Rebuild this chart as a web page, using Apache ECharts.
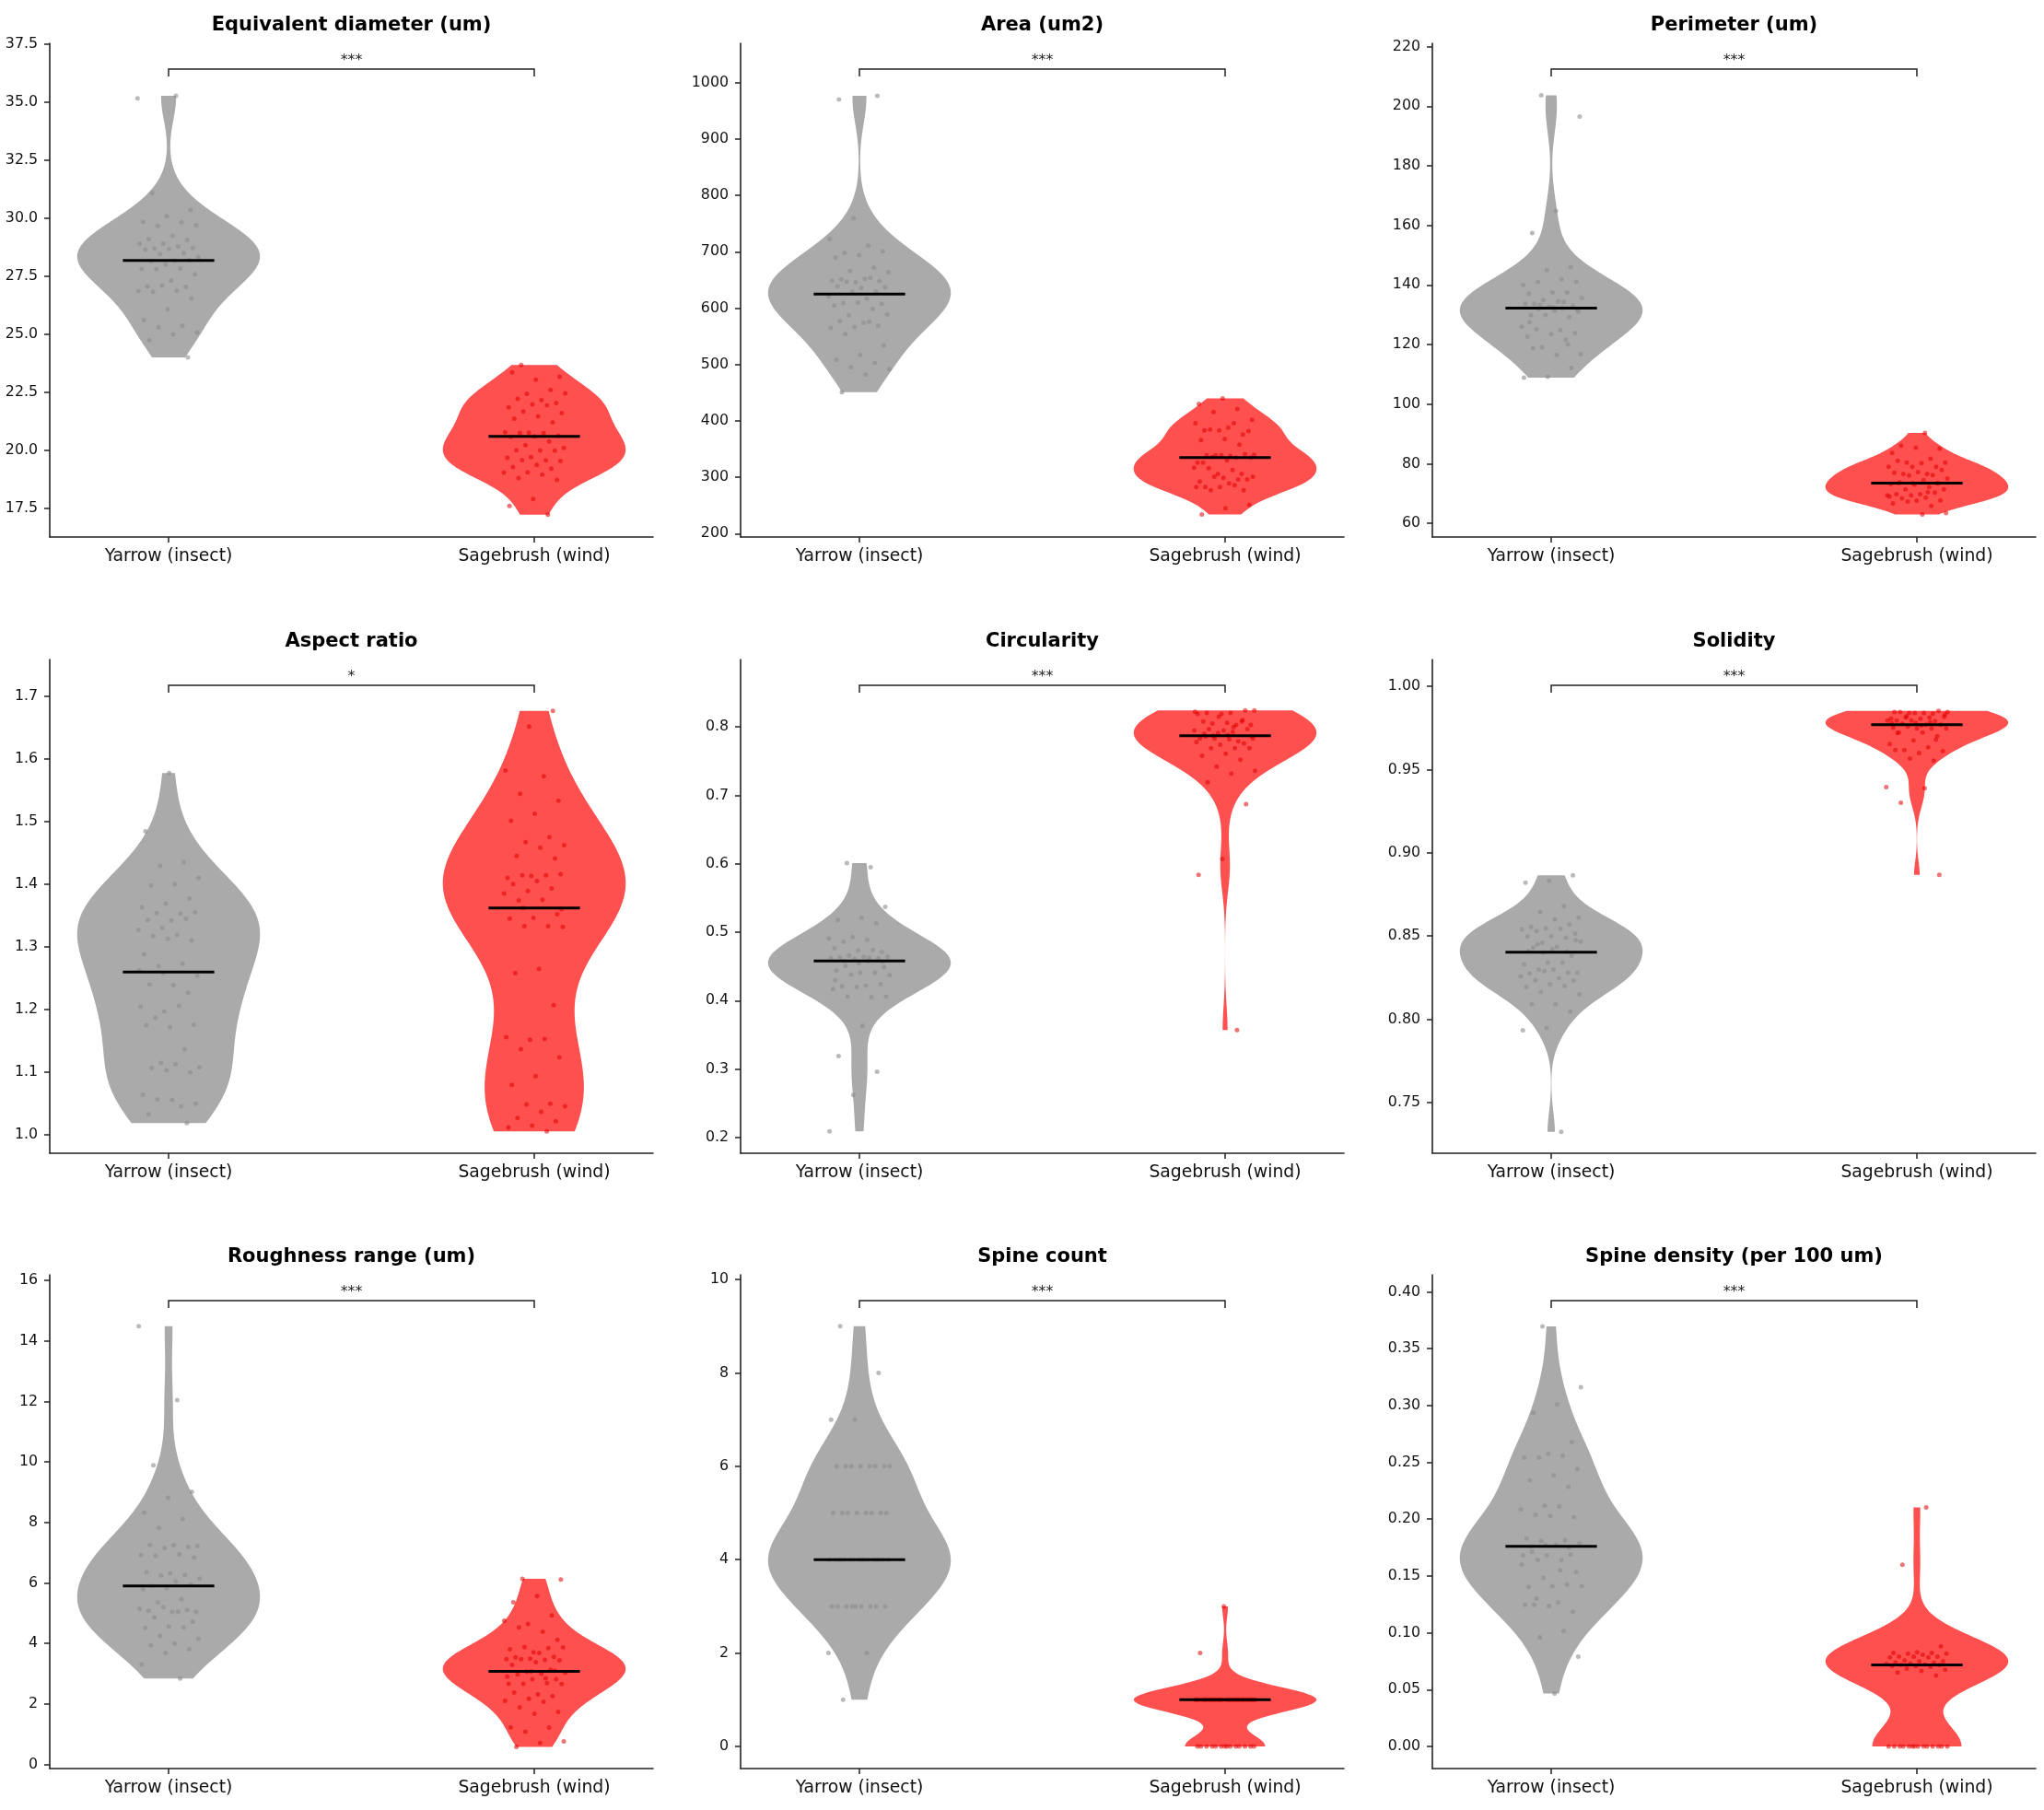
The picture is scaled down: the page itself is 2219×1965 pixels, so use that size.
<!DOCTYPE html>
<html>
<head>
<meta charset="utf-8">
<script src="https://cdn.jsdelivr.net/npm/echarts@6/dist/echarts.min.js"></script>
<style>
html,body{margin:0;padding:0;background:#fff;}
#chart{width:2219px;height:1965px;}
</style>
</head>
<body>
<div id="chart"></div>
<script>
// groups
var categories = ['Yarrow (insect)', 'Sagebrush (wind)'];
var titles = ['Equivalent diameter (um)', 'Area (um2)', 'Perimeter (um)',
              'Aspect ratio', 'Circularity', 'Solidity',
              'Roughness range (um)', 'Spine count', 'Spine density (per 100 um)'];
var sigLabels = ['***', '***', '***', '*', '***', '***', '***', '***', '***'];

// axis limits and ticks
var yMin = [16.26, 194, 55.4, 0.971, 0.177, 0.7195, -0.135, -0.474, -0.0195];
var yMax = [37.54, 1070, 221.1, 1.758, 0.8985, 1.0161, 16.19, 10.1, 0.415];
var yTicks = [
    [17.5, 20, 22.5, 25, 27.5, 30, 32.5, 35, 37.5],
    [200, 300, 400, 500, 600, 700, 800, 900, 1000],
    [60, 80, 100, 120, 140, 160, 180, 200, 220],
    [1.0, 1.1, 1.2, 1.3, 1.4, 1.5, 1.6, 1.7],
    [0.2, 0.3, 0.4, 0.5, 0.6, 0.7, 0.8],
    [0.75, 0.80, 0.85, 0.90, 0.95, 1.00],
    [0, 2, 4, 6, 8, 10, 12, 14, 16],
    [0, 2, 4, 6, 8, 10],
    [0, 0.05, 0.10, 0.15, 0.20, 0.25, 0.30, 0.35, 0.40]
];
var yDecimals = [1, 0, 0, 1, 1, 2, 0, 0, 2];

var eqYarrow = [35.17,35.28,31.1,30.35,30.09,29.84,29.83,29.67,29.7,29.24,29.1,29.06,28.9,28.9,28.79,28.7,28.72,28.68,28.65,28.5,28.46,28.33,28.17,28.15,28.19,28.0,27.81,27.83,27.8,27.58,27.32,27.06,27.04,27.1,26.86,26.88,26.83,26.54,26.08,25.61,25.37,25.30,25.07,24.99,24.75,24.0];
var eqSage = [23.67,23.17,23.04,23.36,22.6,22.43,22.45,22.17,22.22,22.04,21.98,21.85,21.94,21.67,21.6,21.46,21.36,21.2,20.76,20.78,20.74,20.75,20.62,20.6,20.58,20.38,20.22,20.1,19.99,20.0,19.98,19.7,19.67,19.57,19.58,19.54,19.37,19.28,19.21,19.05,19.04,18.95,18.8,18.72,17.9,17.6,17.22];

var areaYarrow = [970.5,977,759.5,723,711,698,701,694,690,672,666,664,652,651,648,646,649,654,647,637.5,636,639,630,629,621,617,609,608,610,605,599,587,589,574,577,569,566.5,565,576,554,534,517,508,503,495,492,482,451];
var areaSage = [440,430,421,416,402,388,383,376,383,396,396,385,382,368,366,358,339,340,338,339,341,339,326,335,336,335,330,326,306,306,317,313,316,296,299,292.5,296,301,301,289,282.5,277,282.5,282.5,286,277,251,245,234];

var perimYarrow = [203.6,196.5,164.8,157.4,146,145,140,141.9,141,141,137.5,137.1,137.5,134.9,135.6,134.5,133.7,133,132.8,133.7,134.3,133.3,131,131.4,129.9,129.2,129.9,126,124.8,125.2,123.9,123.5,122.6,121.6,119.1,116.8,116.5,118.8,112.1,109.2,108.9,132.2,132.0,131.8,132.5,127.5,120];
var perimSage = [90.3,86.1,85.1,85.4,83.6,81.7,80.4,80.4,80.2,81.0,79.0,79,79,76.6,76.6,77.9,77.2,77,76.2,76,75.0,74.5,73.7,73.4,73,73.2,72.2,71.4,71.4,69.8,69.8,70.3,69.4,69.4,68.6,68.4,67.7,67.6,66.7,65.8,67.3,63.4,63.0,73.5,73.5,73.5,69.0,70.5];

var aspectYarrow = [1.577,1.484,1.435,1.429,1.41,1.40,1.398,1.377,1.369,1.363,1.353,1.354,1.355,1.342,1.343,1.345,1.330,1.327,1.319,1.317,1.310,1.313,1.288,1.273,1.269,1.254,1.239,1.240,1.227,1.197,1.205,1.206,1.187,1.176,1.172,1.175,1.137,1.115,1.108,1.113,1.107,1.100,1.103,1.064,1.046,1.057,1.050,1.056,1.033,1.019,1.258,1.262];
var aspectSage = [1.676,1.651,1.581,1.572,1.544,1.533,1.512,1.501,1.475,1.467,1.462,1.458,1.445,1.441,1.413,1.410,1.414,1.414,1.416,1.405,1.40,1.393,1.389,1.385,1.375,1.374,1.352,1.346,1.345,1.333,1.333,1.332,1.265,1.258,1.207,1.152,1.156,1.153,1.137,1.124,1.094,1.080,1.050,1.049,1.046,1.037,1.027,1.022,1.015,1.012,1.006,1.362,1.360];

var circYarrow = [0.595,0.601,0.537,0.521,0.518,0.513,0.493,0.491,0.489,0.486,0.471,0.473,0.477,0.474,0.466,0.464,0.464,0.463,0.462,0.461,0.462,0.463,0.451,0.449,0.441,0.444,0.441,0.438,0.437,0.422,0.421,0.424,0.420,0.417,0.405,0.406,0.406,0.363,0.319,0.296,0.262,0.209,0.458,0.458,0.457,0.455,0.43];
var circSage = [0.824,0.8205,0.8205,0.824,0.819,0.819,0.803,0.805,0.803,0.806,0.808,0.808,0.791,0.795,0.793,0.797,0.797,0.795,0.783,0.779,0.783,0.783,0.782,0.786,0.776,0.774,0.778,0.769,0.769,0.769,0.761,0.758,0.752,0.742,0.736,0.732,0.719,0.687,0.607,0.584,0.357,0.787,0.786,0.788,0.79,0.81,0.815,0.822,0.80];

var solYarrow = [0.8865,0.8832,0.882,0.868,0.8645,0.861,0.860,0.8555,0.857,0.8546,0.854,0.8544,0.853,0.8515,0.850,0.8497,0.849,0.846,0.8466,0.8434,0.843,0.838,0.834,0.833,0.834,0.8297,0.828,0.8297,0.8276,0.8279,0.8288,0.8258,0.8246,0.8234,0.8234,0.821,0.8194,0.820,0.8164,0.815,0.809,0.809,0.8046,0.7948,0.7934,0.7324,0.845,0.8475,0.842,0.841,0.8405,0.840];
var solSage = [0.9845,0.9836,0.984,0.9845,0.984,0.9845,0.9852,0.984,0.9805,0.9812,0.9812,0.9817,0.9805,0.9794,0.979,0.9794,0.9794,0.977,0.9775,0.977,0.9747,0.9751,0.9747,0.9758,0.9747,0.9723,0.9723,0.970,0.9676,0.9653,0.9634,0.9618,0.961,0.960,0.9618,0.9554,0.9566,0.9395,0.9388,0.930,0.8867,0.978,0.9778,0.9785,0.982,0.983,0.9765,0.972,0.968];

var roughYarrow = [14.49,12.05,9.89,9.02,8.82,8.33,8.12,7.82,7.22,7.25,7.26,7.2,7.16,6.92,6.95,6.90,6.84,6.32,6.36,6.27,6.25,6.15,6.05,5.9,5.95,5.83,5.8,5.46,5.36,5.05,5.04,5.08,5.11,5.2,5.15,5.06,4.87,4.72,4.56,4.52,4.53,4.25,4.16,4.0,3.94,3.81,3.69,3.31,2.84];
var roughSage = [6.14,6.12,5.57,5.36,4.93,4.65,4.75,4.39,4.53,4.12,3.71,3.81,3.85,3.88,3.87,3.69,3.54,3.56,3.5,3.48,3.46,3.48,3.44,3.38,3.29,3.13,3.07,3.03,3.0,2.98,2.82,2.82,2.67,2.69,2.67,2.66,2.32,2.38,2.26,2.17,2.1,2.07,1.89,1.74,1.68,1.23,1.22,1.08,0.76,0.71,0.58,3.1,3.08,2.9,2.85];

var spineYarrow = [9,8,7,7,6,6,6,6,6,6,6,6,5,5,5,5,5,5,5,5,4,4,4,4,4,4,4,4,4,4,4,4,4,4,4,4,3,3,3,3,3,3,3,3,3,2,2,1];
var spineSage = [3,2,1,1,1,1,1,1,1,1,1,1,1,1,1,1,1,1,1,1,1,1,1,1,1,1,1,1,1,1,1,1,1,1,0,0,0,0,0,0,0,0,0,0,0,0,0,0];

var densYarrow = [0.3696,0.3161,0.301,0.2936,0.2679,0.2573,0.254,0.2557,0.254,0.2441,0.2385,0.2342,0.2286,0.2117,0.2084,0.2111,0.2038,0.2018,0.2028,0.183,0.1813,0.1807,0.1787,0.1774,0.1714,0.1688,0.1681,0.1681,0.1642,0.1642,0.1533,0.141,0.1404,0.1424,0.1483,0.141,0.1268,0.1245,0.1186,0.1235,0.1245,0.1014,0.0961,0.0789,0.0466,0.176,0.175,0.177,0.16,0.155,0.13];
var densSage = [0.2104,0.1599,0.0882,0.0829,0.0822,0.0822,0.0816,0.0816,0.0806,0.079,0.079,0.079,0.0783,0.0783,0.0756,0.075,0.075,0.074,0.0735,0.073,0.0725,0.0722,0.0717,0.0717,0.0707,0.0707,0.07,0.0684,0.0674,0.0664,0.065,0.0624,0,0,0,0,0,0,0,0,0,0,0,0,0,0];

var panels = [
    [eqYarrow, eqSage], [areaYarrow, areaSage], [perimYarrow, perimSage],
    [aspectYarrow, aspectSage], [circYarrow, circSage], [solYarrow, solSage],
    [roughYarrow, roughSage], [spineYarrow, spineSage], [densYarrow, densSage]
];

// layout
var gridLeft = [54, 804, 1555];
var gridTop = [47, 716, 1384];
var gridW = 655, gridH = 536;
var violinColors = ['#aaaaaa', '#ff5050'];
var pointColors = ['#8c8c8c', '#e00000'];
var FONT = 'DejaVu Sans';

// gaussian kde, scott bandwidth, evaluated between min and max (like matplotlib violinplot)
function kde(vals) {
    var n = vals.length, mean = 0, i;
    for (i = 0; i < n; i++) mean += vals[i];
    mean /= n;
    var ss = 0;
    for (i = 0; i < n; i++) ss += (vals[i] - mean) * (vals[i] - mean);
    var sd = Math.sqrt(ss / (n - 1));
    var bw = sd * Math.pow(n, -0.2);
    var lo = Math.min.apply(null, vals), hi = Math.max.apply(null, vals);
    var coords = [], dens = [], maxD = 0;
    for (var k = 0; k < 100; k++) {
        var c = lo + (hi - lo) * k / 99;
        var d = 0;
        for (i = 0; i < n; i++) {
            var z = (c - vals[i]) / bw;
            d += Math.exp(-0.5 * z * z);
        }
        coords.push(c);
        dens.push(d);
        if (d > maxD) maxD = d;
    }
    for (k = 0; k < 100; k++) dens[k] = 0.25 * dens[k] / maxD;
    return {coords: coords, half: dens};
}

function median(vals) {
    var s = vals.slice().sort(function (a, b) { return a - b; });
    var m = Math.floor(s.length / 2);
    return s.length % 2 ? s[m] : (s[m - 1] + s[m]) / 2;
}

function jitter(i, g, p) {
    var f = (i * 0.6180339887 + g * 0.29 + p * 0.17) % 1;
    return (f - 0.5) * 0.17;
}

var grids = [], xAxes = [], yAxes = [], series = [], graphics = [];

for (var p = 0; p < 9; p++) {
    var col = p % 3, row = Math.floor(p / 3);
    grids.push({left: gridLeft[col], top: gridTop[row], width: gridW, height: gridH});

    xAxes.push({
        type: 'value', gridIndex: p, min: -0.325, max: 1.325,
        splitLine: {show: false},
        axisLine: {onZero: false, lineStyle: {color: '#222', width: 1.6}},
        axisTick: {customValues: [0, 1], length: 6, lineStyle: {color: '#222', width: 1.5}},
        axisLabel: {
            customValues: [0, 1], margin: 12, fontSize: 18.8, fontFamily: FONT, color: '#111',
            formatter: function (v) { return categories[Math.round(v)]; }
        }
    });

    (function (dec) {
        yAxes.push({
            type: 'value', gridIndex: p, min: yMin[p], max: yMax[p],
            splitLine: {show: false},
            axisLine: {show: true, onZero: false, lineStyle: {color: '#222', width: 1.6}},
            axisTick: {show: true, customValues: yTicks[p], length: 6, lineStyle: {color: '#222', width: 1.5}},
            axisLabel: {
                customValues: yTicks[p], margin: 13, fontSize: 15.8, fontFamily: FONT, color: '#111',
                formatter: function (v) { return v.toFixed(dec); }
            }
        });
    })(yDecimals[p]);

    var kdes = [kde(panels[p][0]), kde(panels[p][1])];
    var meds = [median(panels[p][0]), median(panels[p][1])];

    // violin bodies
    (function (kdes) {
        series.push({
            type: 'custom', xAxisIndex: p, yAxisIndex: p, z: 1, silent: true,
            data: [[0, yMin[p]], [1, yMin[p]]],
            renderItem: function (params, api) {
                var g = params.dataIndex, kd = kdes[g], pts = [], k;
                for (k = 0; k < kd.coords.length; k++) pts.push(api.coord([g + kd.half[k], kd.coords[k]]));
                for (k = kd.coords.length - 1; k >= 0; k--) pts.push(api.coord([g - kd.half[k], kd.coords[k]]));
                return {type: 'polygon', shape: {points: pts}, style: {fill: violinColors[g]}};
            }
        });
    })(kdes);

    // jittered points
    for (var g = 0; g < 2; g++) {
        series.push({
            type: 'scatter', xAxisIndex: p, yAxisIndex: p, z: 2, silent: true,
            symbolSize: 5,
            itemStyle: {color: pointColors[g], opacity: g === 0 ? 0.6 : 0.55},
            data: panels[p][g].map(function (v, i) { return [g + jitter(i, g, p), v]; })
        });
    }

    // medians
    series.push({
        type: 'custom', xAxisIndex: p, yAxisIndex: p, z: 3, silent: true,
        data: [[0, meds[0]], [1, meds[1]]],
        renderItem: function (params, api) {
            var x = api.value(0), y = api.value(1);
            var a = api.coord([x - 0.125, y]), b = api.coord([x + 0.125, y]);
            return {type: 'line', shape: {x1: a[0], y1: a[1], x2: b[0], y2: b[1]},
                    style: {stroke: '#000', lineWidth: 3}};
        }
    });

    // significance bracket
    (function (label) {
        series.push({
            type: 'custom', xAxisIndex: p, yAxisIndex: p, z: 3, silent: true,
            data: [[0.5, yMax[p]]],
            renderItem: function (params, api) {
                var cs = params.coordSys;
                var yl = cs.y + 28;
                var x0 = api.coord([0, yMax[0]])[0], x1 = api.coord([1, yMax[0]])[0];
                return {type: 'group', children: [
                    {type: 'polyline', shape: {points: [[x0, yl + 8], [x0, yl], [x1, yl], [x1, yl + 8]]},
                     style: {stroke: '#222', lineWidth: 1.5, fill: null}},
                    {type: 'text', x: (x0 + x1) / 2, y: yl - 1,
                     style: {text: label, fill: '#222', font: '15.8px "DejaVu Sans"',
                             textAlign: 'center', textVerticalAlign: 'bottom'}}
                ]};
            }
        });
    })(sigLabels[p]);

    graphics.push({
        type: 'text', x: gridLeft[col] + gridW / 2, y: gridTop[row] - 19,
        style: {text: titles[p], fill: '#000', font: 'bold 21px "DejaVu Sans"',
                textAlign: 'center', textVerticalAlign: 'middle'}
    });
}

var myChart = echarts.init(document.getElementById('chart'));
var option = {
    backgroundColor: '#fff',
    animation: false,
    grid: grids,
    xAxis: xAxes,
    yAxis: yAxes,
    series: series,
    graphic: graphics
};
myChart.setOption(option);
</script>
</body>
</html>
